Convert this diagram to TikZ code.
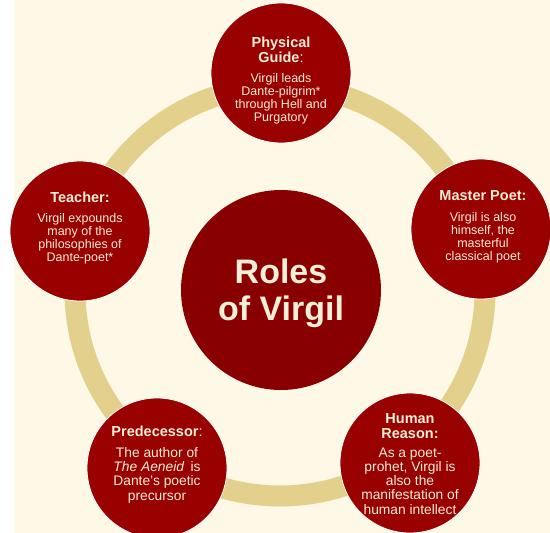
\documentclass[tikz,border=0pt]{standalone}
\usepackage{fontspec}
\setmainfont{Liberation Sans}
\usepackage{tikz}
\usetikzlibrary{positioning}
\definecolor{paper}{RGB}{254,249,230}
\definecolor{roleRed}{RGB}{153,0,0}
\definecolor{hubRed}{RGB}{136,0,0}
\definecolor{ringTan}{RGB}{227,208,140}
\definecolor{cream}{RGB}{246,238,214}

\begin{document}
\begin{tikzpicture}[x=1pt, y=-1pt,
role/.style={circle, fill=roleRed, draw=white, line width=0.8pt, minimum size=140pt, inner sep=0pt},
hub/.style={circle, fill=hubRed, minimum size=200pt, inner sep=0pt},
ring/.style={draw=ringTan, line width=21pt},
head/.style={text=cream, align=center, inner sep=0pt, anchor=base, font=\fontsize{14.5}{15}\selectfont\bfseries},
body/.style={text=cream, align=center, inner sep=0pt, anchor=base, font=\fontsize{12.5}{12.8}\selectfont},
bigbody/.style={body, font=\fontsize{13.8}{14.2}\selectfont},
title/.style={text=cream, align=center, inner sep=0pt, anchor=base, font=\fontsize{34}{37}\selectfont\bfseries}
]
% page
\useasboundingbox (0,0) rectangle (550,533);
\fill[white] (0,0) rectangle (550,533);
\fill[paper] (14,0) rectangle (550,533);

% ring behind everything
\coordinate (o) at (280,291);
\draw[ring] (o) circle[radius=205pt];

% circles
\node[hub] (roles) at (281,290) {};
\node[role] (guide) at (281,73) {};
\node[role] (poet) at (481,229) {};
\node[role] (reason) at (410,463) {};
\node[role] (pred) at (157,468) {};
\node[role] (teacher) at (80,231) {};

% texts
\node[title] (rolesText) at (281,320) {Roles\\of Virgil};

\node[head] (guideHead) at (281,62) {Physical\\Guide{\mdseries :}};
\node[body] (guideBody) at (281,121) {Virgil leads\\Dante-pilgrim*\\through Hell and\\Purgatory};

\node[head] (poetHead) at (483,200) {Master Poet:};
\node[body] (poetBody) at (483,260) {Virgil is also\\himself, the\\masterful\\classical poet};

\node[head] (reasonHead) at (410,438) {Human\\Reason:};
\node[bigbody] (reasonBody) at (410,514) {As a poet-\\prohet, Virgil is\\also the\\manifestation of\\human intellect};

\node[head] (predHead) at (157,436) {Predecessor{\mdseries :}};
\node[bigbody] (predBody) at (157,500) {The author of\\\textit{The Aeneid}\, is\\Dante's poetic\\precursor};

\node[head] (teacherHead) at (80,202) {Teacher:};
\node[body] (teacherBody) at (80,261) {Virgil expounds\\many of the\\philosophies of\\Dante-poet*};
\end{tikzpicture}
\end{document}
